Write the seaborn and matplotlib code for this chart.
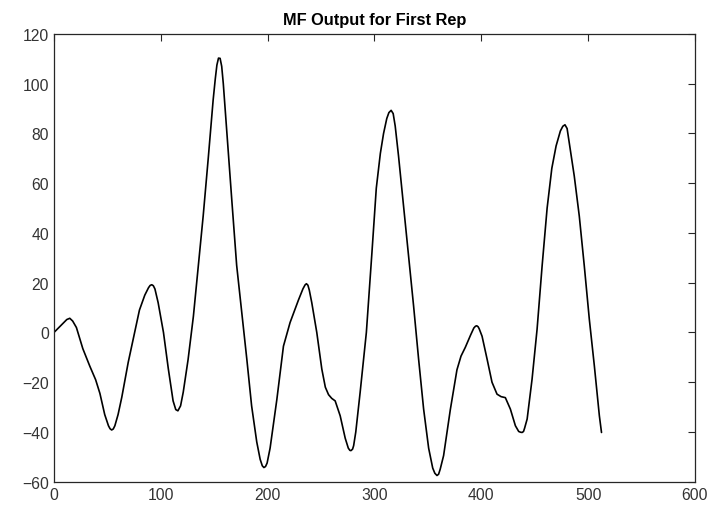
import matplotlib
matplotlib.use("Agg")
import matplotlib.pyplot as plt
import seaborn as sns
import pandas as pd

# Sample index and matched-filter output for the first repetition
sample = [0, 7, 12, 14.8, 17.5, 21, 27, 33.5, 39, 43, 47.5, 51, 52.5, 54, 55.5, 57,
          60, 63.5, 69.5, 74, 80, 85, 88.5, 90, 91.5, 93, 94.5, 97.5, 102.5, 107,
          111.5, 114, 116, 118.5, 121, 125.5, 130.5, 135, 139.7, 144.4, 149, 151,
          152.5, 154, 155.5, 157, 158.5, 161.7, 166.4, 171, 175.8, 180.5, 185,
          189.8, 193, 195, 196.5, 198, 199.5, 202.3, 208.6, 214.8, 221, 228.8, 233,
          235, 236.3, 237.7, 239, 241.3, 246, 250.7, 254, 257, 260, 263.2, 267.9,
          272.6, 275.5, 277, 278, 279.5, 280.5, 282.5, 286.6, 292.4, 297.6, 301.7,
          305.5, 308.5, 311.5, 313.5, 315.6, 317.5, 319.4, 322.5, 327.2, 331.9,
          336.6, 341.3, 346, 350.7, 354.5, 356.5, 358.5, 360, 361.5, 364.7, 371,
          377.2, 381, 385, 390, 393, 394.5, 395.7, 397, 398, 400.7, 405.4, 410,
          414.7, 418.5, 422.5, 427.2, 431.9, 435, 436.7, 438.2, 439.5, 440.5, 442.9,
          447.5, 452.2, 456.9, 461.6, 466, 470, 474, 476.3, 478.3, 480.3, 482.3,
          487, 491.7, 496.4, 501.1, 505.8, 510.5, 512.5]
mf_output = [0, 3, 5.2, 5.7, 4.6, 2, -6.5, -13.5, -19, -24.5, -33, -37.5, -38.7,
             -39.2, -38.8, -37.5, -33, -26, -12, -3, 9, 15, 18, 18.9, 19.2, 18.8,
             17.5, 12, 0, -14.5, -27.5, -31, -31.5, -29.5, -24, -11, 6.5, 26.5, 47,
             70, 93.5, 102, 107.5, 110.3, 110.2, 107, 100, 81, 53.5, 27, 8, -10.7,
             -29.5, -44, -51, -53.6, -54.3, -53.9, -52.5, -46.5, -27, -5.5, 4, 13,
             17.5, 19.1, 19.6, 19, 17, 12, 0, -14.7, -22, -25, -26.5, -27.5, -33.5,
             -42.5, -46.5, -47.4, -47.5, -46.9, -45.5, -40, -24, 0, 32, 58, 72, 80,
             86, 88.4, 89.3, 88, 83, 71, 51, 31, 10.7, -10.7, -30.8, -46.5, -54.5,
             -56.6, -57.5, -57, -55, -49.5, -31, -15, -9.5, -6, -1, 1.8, 2.5, 2.7,
             2.3, 1.5, -1.5, -10.7, -20, -24.8, -25.8, -26.2, -30.8, -37.5, -39.8,
             -40.1, -40.2, -39.8, -38.5, -34.8, -18.8, 1.3, 26.7, 50, 66, 75, 81,
             82.9, 83.5, 82, 76.3, 62.9, 46.8, 26.7, 5.3, -13.4, -33.5, -40.2]

x_ticks = [0, 100, 200, 300, 400, 500, 600]
y_ticks = [-60, -40, -20, 0, 20, 40, 60, 80, 100, 120]

sns.set_theme(style="white")
plt.rcParams["font.family"] = ["Liberation Sans", "DejaVu Sans"]

df = pd.DataFrame({"sample": sample, "output": mf_output})

fig = plt.figure(figsize=(7.12, 5.10), dpi=100)
ax = fig.add_axes([0.0758, 0.0535, 0.9003, 0.8779])

sns.lineplot(data=df, x="sample", y="output", ax=ax, color="black",
             linewidth=1.2, estimator=None, sort=False)

ax.set_xlim(0, 600)
ax.set_ylim(-60, 120)
ax.set_xticks(x_ticks)
ax.set_yticks(y_ticks)
ax.set_xlabel("")
ax.set_ylabel("")
ax.set_title("MF Output for First Rep", fontsize=11.8, fontweight="bold",
             color="black", pad=7)

edge = "#262626"
for side in ax.spines.values():
    side.set_visible(True)
    side.set_color(edge)
    side.set_linewidth(0.9)
ax.tick_params(direction="in", length=5, width=0.8, color=edge,
               top=True, right=True, labelsize=11.3, labelcolor="#333333")

fig.savefig("out.png", dpi=100, facecolor="white")
